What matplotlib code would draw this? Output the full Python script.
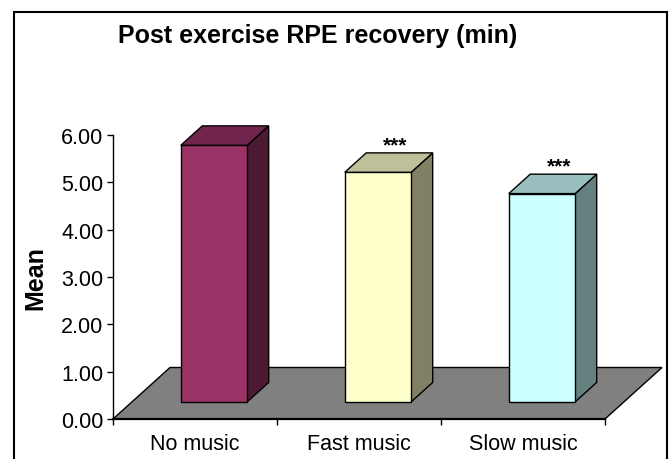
import matplotlib
matplotlib.use("Agg")
import matplotlib.pyplot as plt
from matplotlib.patches import Polygon, Rectangle

plt.rcParams['font.family'] = ['Liberation Sans', 'DejaVu Sans']

categories = ["No music", "Fast music", "Slow music"]
values = [5.42, 4.85, 4.40]
marks = ["", "***", "***"]
front_colors = ["#993366", "#FFFFCC", "#CCFFFF"]
top_colors = ["#73264D", "#BFBF99", "#99BFBF"]
side_colors = ["#4D1A33", "#808066", "#668080"]
yticks = [0, 1, 2, 3, 4, 5, 6]
title = "Post exercise RPE recovery (min)"
ylabel = "Mean"

# oblique depth vector (data units) for the full floor depth
DX, DY = 0.3476, 1.088
t0, t1 = 0.333, 0.71
half_w = 0.2025

W, H = 672, 460
fig = plt.figure(figsize=(W / 100, H / 100), dpi=100)
ax = fig.add_axes([113 / W, 40 / H, 557.6 / W, 284 / H])
ax.set_xlim(0, 3.4)
ax.set_ylim(0, 6)

n = len(categories)
# floor
floor = Polygon([(0, 0), (n, 0), (n + DX, DY), (DX, DY)], closed=True,
                facecolor="#808080", edgecolor="black", lw=1.0, zorder=1, clip_on=False)
ax.add_patch(floor)

for i, (v, fc, tc, sc) in enumerate(zip(values, front_colors, top_colors, side_colors)):
    c = i + 0.5
    xl0, xr0 = c - half_w + t0 * DX, c + half_w + t0 * DX
    yb0 = t0 * DY
    yt0 = yb0 + v
    ddx, ddy = (t1 - t0) * DX, (t1 - t0) * DY
    front = Polygon([(xl0, yb0), (xr0, yb0), (xr0, yt0), (xl0, yt0)], closed=True,
                    facecolor=fc, edgecolor="black", lw=1.0, zorder=3, clip_on=False)
    top = Polygon([(xl0, yt0), (xr0, yt0), (xr0 + ddx, yt0 + ddy), (xl0 + ddx, yt0 + ddy)],
                  closed=True, facecolor=tc, edgecolor="black", lw=1.0, zorder=3, clip_on=False)
    side = Polygon([(xr0, yb0), (xr0 + ddx, yb0 + ddy), (xr0 + ddx, yt0 + ddy), (xr0, yt0)],
                   closed=True, facecolor=sc, edgecolor="black", lw=1.0, zorder=3, clip_on=False)
    ax.add_patch(side)
    ax.add_patch(front)
    ax.add_patch(top)
    if marks[i]:
        ax.text(c + 2 * t0 * DX - 0.01, yt0 + ddy + 0.06, marks[i], ha="center", va="baseline",
                fontsize=15, fontweight="bold", zorder=4)

for s in ["top", "right"]:
    ax.spines[s].set_visible(False)
ax.spines["left"].set_bounds(0, 6)
ax.spines["bottom"].set_bounds(0, n)
ax.spines["left"].set_linewidth(1.0)
ax.spines["bottom"].set_linewidth(1.6)
ax.spines["bottom"].set_zorder(5)

ax.set_yticks(yticks)
ax.set_yticklabels([f"{t:.2f}" for t in yticks], fontsize=15.5)
ax.tick_params(axis="y", direction="out", length=4, width=1.0, pad=3)
ax.set_xticks(range(n + 1))
ax.set_xticklabels([])
ax.tick_params(axis="x", which="major", direction="out", length=4, width=1.0)
ax.set_xticks([i + 0.5 for i in range(n)], minor=True)
ax.set_xticklabels(categories, minor=True, fontsize=15.5)
ax.tick_params(axis="x", which="minor", length=0, pad=10)
ax.patch.set_visible(False)

ax.set_ylabel(ylabel, fontsize=18, fontweight="bold")
ax.yaxis.set_label_coords(-0.118, 0.5)

fig.text(318 / W, 1 - 36 / H, title, ha="center", va="center", fontsize=18, fontweight="bold")

border = Rectangle((14 / W, -0.05), (667 - 14) / W, (H - 13) / H + 0.05, transform=fig.transFigure,
                   fill=False, edgecolor="black", lw=1.5)
fig.add_artist(border)

fig.savefig("out.png", dpi=100)
